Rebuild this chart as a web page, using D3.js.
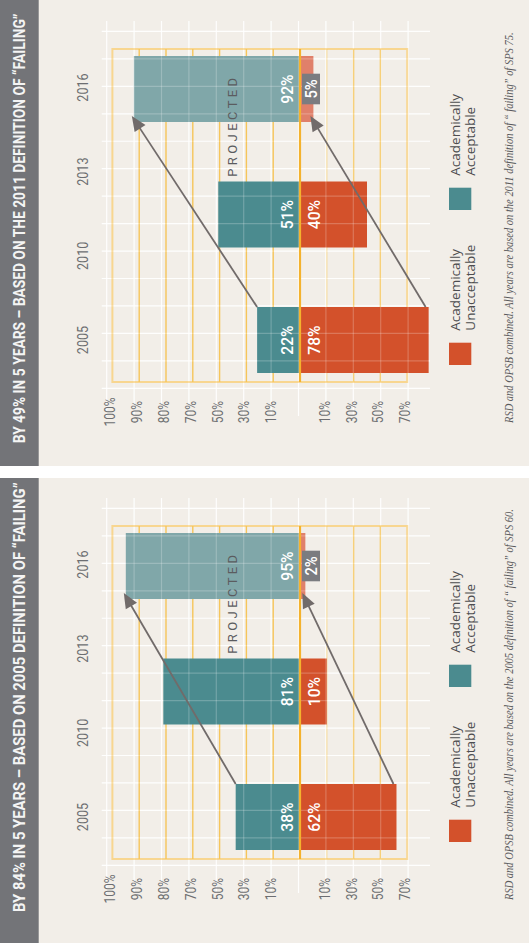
<!DOCTYPE html>
<html>
<head>
<meta charset="utf-8">
<script src="https://cdn.jsdelivr.net/npm/d3@7"></script>
<style>
  html, body { margin: 0; padding: 0; background: #fff; }
  svg { display: block; }
</style>
</head>
<body>
<div id="chart"></div>
<script>
// ---- data ----
const years = ["2005", "2010", "2013", "2016"];
const barYears = ["2005", "2010", "2016"];
const projectedYear = "2016";
const acceptableTicks = [100, 90, 80, 70, 50, 30, 10];
const unacceptableTicks = [10, 30, 50, 70];
const scaleStops = [0, 10, 30, 50, 70, 80, 90, 100];

const titles = [
  "BY 49% IN 5 YEARS – BASED ON THE 2011 DEFINITION OF “FAILING”",
  "BY 84% IN 5 YEARS – BASED ON 2005 DEFINITION OF “FAILING”"
];
const acceptable2011 = [22, 51, 92];
const unacceptable2011 = [78, 40, 5];
const acceptable2005 = [38, 81, 95];
const unacceptable2005 = [62, 10, 2];
const footnotes = [
  "RSD and OPSB combined. All years are based on the 2011 definition of “ failing” of SPS 75.",
  "RSD and OPSB combined. All years are based on the 2005 definition of “ failing” of SPS 60."
];
const legendLabels = [["Academically", "Acceptable"], ["Academically", "Unacceptable"]];
const projectedLabel = "PROJECTED";

// ---- layout / style ----
const W = 529, H = 943;
const base = 300, step = 26.8;
const headerH = 38.7;
const barW = 66;
const frameU = [84, 417];
const colors = {
  acc: "#4b8b8f", accProj: "#80a7a9",
  un: "#d3512b", unProj: "#e0806a",
  header: "#737478", bg: "#f2eee8",
  grid: "#f6c55a", frame: "#f8d690", baseline: "#f4b22e",
  arrow: "#716b6a", text: "#6d6e71"
};
const panels = [
  { origin: 466, width: 466, titleU: 22.7, title: titles[0], acc: acceptable2011, un: unacceptable2011, note: footnotes[0] },
  { origin: 943, width: 465, titleU: 31, title: titles[1], acc: acceptable2005, un: unacceptable2005, note: footnotes[1] }
];

// scales (local, un-rotated coordinates: u along, v down)
const yAcc = d3.scaleLinear().domain(scaleStops).range(scaleStops.map((d, i) => base - i * step));
const yUn = d3.scaleLinear().domain(scaleStops).range(scaleStops.map((d, i) => base + i * step));
const xYear = d3.scalePoint().domain(years).range([126, 378.5]);
const xBar = d3.scalePoint().domain(barYears).range([126, 377]);

const svg = d3.select("#chart").append("svg").attr("width", W).attr("height", H);
svg.append("rect").attr("width", W).attr("height", H).attr("fill", "#fff");

// squeeze a text horizontally with a transform (ratio < 1), or to a fixed length
function squeeze(sel, ratio, target) {
  sel.each(function() {
    const t = d3.select(this);
    const L = this.getComputedTextLength();
    const k = target ? target / L : ratio;
    const x = +t.attr("x") || 0, y = +t.attr("y") || 0;
    t.attr("x", 0).attr("y", 0)
      .attr("transform", `translate(${x},${y}) scale(${k},1)`);
  });
}

function whiteGrid(g, opacity) {
  const grid = g.append("g").attr("stroke", "#fff").attr("stroke-opacity", opacity).attr("stroke-width", 1.2);
  grid.selectAll("line.gu").data(d3.range(77.7, 440, 27.45)).enter().append("line")
    .attr("x1", d => d).attr("x2", d => d).attr("y1", 101.7).attr("y2", 430);
  grid.selectAll("line.gv").data(d3.range(106.7, 412, 27.4)).enter().append("line")
    .attr("x1", 50).attr("x2", 445).attr("y1", d => d).attr("y2", d => d);
}

panels.forEach(p => {
  const g = svg.append("g").attr("transform", `translate(0,${p.origin}) rotate(-90)`);

  // background + header band
  g.append("rect").attr("width", p.width).attr("height", W).attr("fill", colors.bg);
  g.append("rect").attr("width", p.width).attr("height", headerH).attr("fill", colors.header);
  g.append("text")
    .attr("x", p.titleU).attr("y", 25)
    .attr("font-family", "Roboto, 'Liberation Sans', sans-serif")
    .attr("font-size", 16).attr("font-weight", 700)
    .attr("fill", "#f4f4f4")
    .text(p.title)
    .call(squeeze, null, 430);

  whiteGrid(g, 0.9);

  // orange frame + gridlines
  g.append("rect")
    .attr("x", frameU[0]).attr("y", yAcc(100))
    .attr("width", frameU[1] - frameU[0]).attr("height", yUn(70) - yAcc(100))
    .attr("fill", "none").attr("stroke", colors.frame).attr("stroke-width", 2);
  const gl = acceptableTicks.filter(d => d !== 100).map(d => ({ v: yAcc(d), o: 1 }))
    .concat(unacceptableTicks.filter(d => d !== 70).map(d => ({ v: yUn(d), o: d === 10 ? 0.45 : 1 })));
  g.selectAll("line.og").data(gl).enter().append("line")
    .attr("x1", frameU[0]).attr("x2", frameU[1])
    .attr("y1", d => d.v).attr("y2", d => d.v)
    .attr("stroke", colors.grid).attr("stroke-opacity", d => d.o).attr("stroke-width", 1.4);

  // bars
  const rows = barYears.map((y, i) => ({ year: y, acc: p.acc[i], un: p.un[i], proj: y === projectedYear }));
  g.selectAll("rect.acc").data(rows).enter().append("rect")
    .attr("x", d => xBar(d.year) - barW / 2).attr("width", barW)
    .attr("y", d => yAcc(d.acc)).attr("height", d => base - yAcc(d.acc))
    .attr("fill", d => d.proj ? colors.accProj : colors.acc);
  g.selectAll("rect.un").data(rows).enter().append("rect")
    .attr("x", d => xBar(d.year) - barW / 2).attr("width", barW)
    .attr("y", base).attr("height", d => yUn(d.un) - base)
    .attr("fill", d => d.proj ? colors.unProj : colors.un);

  whiteGrid(g, 0.22);

  // baseline
  g.append("line").attr("x1", frameU[0]).attr("x2", frameU[1])
    .attr("y1", base).attr("y2", base)
    .attr("stroke", colors.baseline).attr("stroke-width", 2.2);

  // arrows from 2005 to projected bar
  const first = rows[0], last = rows[rows.length - 1];
  const arrows = [
    { s: [xBar(first.year) + barW / 2, yAcc(first.acc)], t: [xBar(last.year) - barW / 2 + 6, yAcc(last.acc) - 2] },
    { s: [xBar(first.year) + barW / 2, yUn(first.un) - 3], t: [xBar(last.year) - barW / 2 + 6, yUn(last.un) - 3] }
  ];
  arrows.forEach(a => {
    const ang = Math.atan2(a.t[1] - a.s[1], a.t[0] - a.s[0]);
    const len = 15, half = 6.5;
    const bx = a.t[0] - len * Math.cos(ang), by = a.t[1] - len * Math.sin(ang);
    g.append("line")
      .attr("x1", a.s[0]).attr("y1", a.s[1])
      .attr("x2", bx + 2 * Math.cos(ang)).attr("y2", by + 2 * Math.sin(ang))
      .attr("stroke", colors.arrow).attr("stroke-width", 1.8);
    const pts = [
      a.t,
      [bx - half * Math.sin(ang), by + half * Math.cos(ang)],
      [bx + half * Math.sin(ang), by - half * Math.cos(ang)]
    ];
    g.append("path").attr("d", "M" + pts.join("L") + "Z").attr("fill", colors.arrow);
  });

  // bar labels
  const lab = g.append("g").attr("font-family", "Roboto, 'Liberation Sans', sans-serif")
    .attr("fill", "#fff").attr("text-anchor", "middle");
  lab.selectAll("text.acc").data(rows).enter().append("text")
    .attr("x", d => xBar(d.year)).attr("y", base - 7)
    .attr("font-size", 17).attr("font-weight", 500)
    .text(d => d.acc + "%")
    .call(squeeze, 0.92);
  rows.forEach(d => {
    const len = yUn(d.un) - base;
    if (len < 20) {
      lab.append("rect")
        .attr("x", xBar(d.year) - 15.3).attr("width", 30.6)
        .attr("y", base + 2).attr("height", 18)
        .attr("fill", "#7b7c80");
      lab.append("text")
        .attr("x", xBar(d.year)).attr("y", base + 16.7)
        .attr("font-size", 16).attr("font-weight", 500)
        .text(d.un + "%").call(squeeze, 0.92);
    } else {
      lab.append("text")
        .attr("x", xBar(d.year)).attr("y", base + 20)
        .attr("font-size", 17).attr("font-weight", 500)
        .text(d.un + "%").call(squeeze, 0.92);
    }
  });

  // projected label
  g.append("text")
    .attr("x", (xYear("2013") + xYear("2016")) / 2 + 4).attr("y", 236.7)
    .attr("text-anchor", "middle")
    .attr("font-family", "Roboto, 'Liberation Sans', sans-serif")
    .attr("font-size", 13).attr("fill", "#5b5c5f")
    .attr("letter-spacing", 3.4)
    .text(projectedLabel);

  // year labels
  g.selectAll("text.year").data(years).enter().append("text")
    .attr("x", d => xYear(d)).attr("y", 88)
    .attr("text-anchor", "middle")
    .attr("font-family", "Roboto, 'Liberation Sans', sans-serif")
    .attr("font-size", 15).attr("fill", colors.text)
    .text(d => d)
    .call(squeeze, 0.84);

  // value axes (tick labels only)
  [[yAcc, acceptableTicks], [yUn, unacceptableTicks]].forEach(([sc, ticks]) => {
    const ax = g.append("g").attr("transform", "translate(54,0)")
      .call(d3.axisLeft(sc).tickValues(ticks).tickSize(0).tickFormat(d => d + "%"));
    ax.select(".domain").remove();
    ax.attr("font-family", "Roboto, 'Liberation Sans', sans-serif").attr("font-size", 14);
    ax.selectAll("text")
      .attr("x", 0).attr("dy", null).attr("y", 2.5)
      .attr("text-anchor", "middle").attr("fill", colors.text)
      .call(squeeze, 0.86);
  });

  // legend
  const legU = [256, 101];
  const legFill = [colors.acc, colors.un];
  legendLabels.forEach((lines, i) => {
    g.append("rect").attr("x", legU[i]).attr("y", 449).attr("width", 22.3).attr("height", 22.3).attr("fill", legFill[i]);
    lines.forEach((t, j) => {
      g.append("text")
        .attr("x", legU[i] + 34.3).attr("y", 460 + j * 15)
        .attr("font-family", "'Open Sans', 'Noto Sans', sans-serif")
        .attr("font-size", 13.5).attr("fill", "#4d4d4f")
        .text(t);
    });
  });

  // footnote
  g.append("text")
    .attr("x", 43).attr("y", 513)
    .attr("font-family", "'Liberation Serif', 'DejaVu Serif', serif")
    .attr("font-style", "italic").attr("font-size", 11.5)
    .attr("fill", "#5a5a5c")
    .text(p.note)
    .call(squeeze, null, 391);
});
</script>
</body>
</html>
